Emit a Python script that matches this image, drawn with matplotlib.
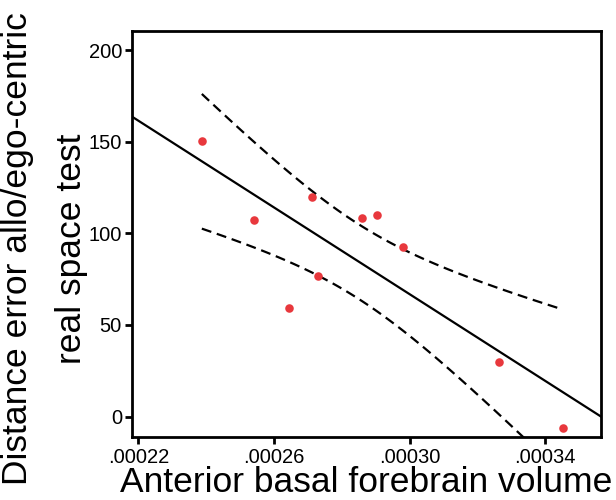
import numpy as np
import matplotlib.pyplot as plt

plt.rcParams['font.family'] = ['Liberation Sans', 'DejaVu Sans']

# Data
volume = np.array([.0002387, .0002541, .0002713, .0002859, .0002905,
                   .0002980, .0002729, .0002643, .0003263, .0003452])
dist_error = np.array([150.7, 107.4, 119.8, 108.6, 110.3,
                       92.5, 77.0, 59.5, 29.7, -6.3])
x_ticks = [.00022, .00026, .00030, .00034]
x_tick_labels = ['.00022', '.00026', '.00030', '.00034']
y_ticks = [0, 50, 100, 150, 200]

# Linear fit and 95% confidence band of the mean
slope, intercept = np.polyfit(volume, dist_error, 1)
n = len(volume)
resid = dist_error - (slope * volume + intercept)
s = np.sqrt(np.sum(resid ** 2) / (n - 2))
sxx = np.sum((volume - volume.mean()) ** 2)
t_crit = 2.306  # t(0.975, df=8)

xlim = (.000218, .0003565)
x_line = np.array(xlim)
x_band = np.linspace(volume.min(), volume.max(), 100)
y_band = slope * x_band + intercept
half = t_crit * s * np.sqrt(1 / n + (x_band - volume.mean()) ** 2 / sxx)

fig = plt.figure(figsize=(6.16, 5.0), dpi=100)
ax = fig.add_axes([0.2138, 0.1266, 0.7618, 0.8114])

ax.plot(x_line, slope * x_line + intercept, color='black', lw=1.6)
ax.plot(x_band, y_band + half, color='black', lw=1.6, ls=(0, (4.5, 2.6)))
ax.plot(x_band, y_band - half, color='black', lw=1.6, ls=(0, (4.5, 2.6)))
ax.scatter(volume, dist_error, s=38, color='#e8383d', zorder=3, linewidths=0)

ax.set_xlim(xlim)
ax.set_ylim(-11, 210.5)
ax.set_xticks(x_ticks)
ax.set_xticklabels(x_tick_labels)
ax.set_yticks(y_ticks)

for sp in ax.spines.values():
    sp.set_linewidth(2)
ax.tick_params(direction='out', length=5, width=2, labelsize=14.5)
ax.tick_params(axis='x', pad=3)
ax.tick_params(axis='y', pad=2)

ax.set_xlabel('Anterior basal forebrain volume', fontsize=25.5)
ax.xaxis.set_label_coords(0.5, -0.071)
ax.set_ylabel('Distance error allo/ego-centric\nreal space test', fontsize=25.5,
              linespacing=1.8)
ax.yaxis.set_label_coords(-0.094, 0.463)

fig.savefig('out.png', dpi=100)
